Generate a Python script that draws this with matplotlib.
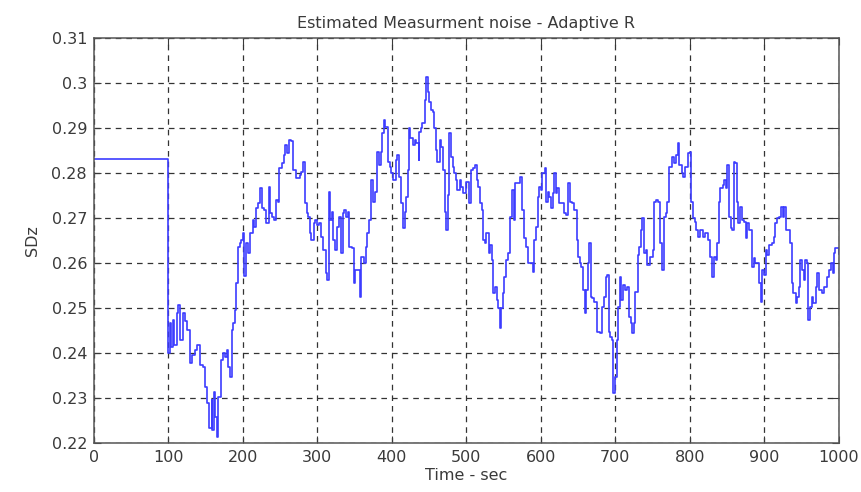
import matplotlib
matplotlib.use("Agg")
import matplotlib.pyplot as plt

plt.rcParams['font.family'] = ['DejaVu Sans']

t = [0, 100, 102, 104, 106, 108, 111, 113, 116, 119, 122, 125, 129, 132, 135, 138,
     142, 147, 149, 152, 155, 158, 159, 161, 163, 165, 167, 170, 173, 176, 178, 180,
     182, 185, 187, 189, 191, 194, 196, 198, 200, 202, 204, 207, 210, 213, 215, 217,
     220, 223, 226, 228, 231, 235, 237, 239, 242, 245, 247, 249, 252, 255, 256, 259,
     262, 265, 267, 271, 273, 276, 278, 281, 283, 286, 288, 290, 292, 295, 297, 299,
     302, 305, 308, 311, 313, 315, 317, 319, 321, 324, 326, 329, 332, 334, 336, 339,
     341, 343, 347, 349, 351, 354, 357, 359, 362, 365, 366, 369, 372, 374, 377, 380,
     383, 386, 387, 389, 391, 395, 397, 399, 402, 405, 407, 409, 412, 415, 417, 419,
     421, 423, 425, 428, 431, 433, 436, 437, 439, 441, 444, 446, 448, 450, 452, 455,
     457, 459, 461, 464, 466, 468, 471, 473, 475, 477, 479, 482, 484, 486, 488, 491,
     493, 496, 498, 500, 503, 506, 509, 512, 514, 516, 519, 521, 523, 525, 527, 530,
     532, 534, 536, 538, 541, 543, 545, 547, 549, 551, 553, 556, 558, 561, 564, 566,
     570, 572, 575, 578, 580, 583, 586, 589, 591, 593, 596, 598, 600, 602, 605, 607,
     609, 611, 613, 616, 618, 620, 622, 625, 628, 631, 634, 637, 639, 642, 645, 648,
     650, 652, 654, 657, 659, 661, 663, 665, 667, 669, 672, 676, 679, 682, 685, 687,
     689, 691, 693, 695, 697, 700, 702, 704, 706, 708, 711, 713, 716, 718, 721, 723,
     725, 727, 730, 732, 734, 736, 739, 741, 743, 747, 750, 752, 755, 758, 760, 763,
     765, 768, 770, 772, 776, 779, 782, 784, 786, 789, 791, 794, 797, 800, 802, 804,
     807, 809, 811, 814, 818, 821, 825, 827, 830, 832, 835, 837, 839, 841, 844, 846,
     848, 850, 852, 855, 857, 859, 861, 863, 865, 867, 870, 873, 875, 877, 880, 883,
     886, 888, 890, 893, 895, 897, 900, 902, 904, 907, 910, 913, 915, 917, 920, 923,
     925, 927, 929, 932, 935, 937, 939, 942, 944, 946, 948, 951, 953, 955, 957, 959,
     962, 964, 966, 969, 971, 973, 977, 980, 984, 987, 990, 992, 993, 995, 1000]
sdz = [0.2830, 0.2400, 0.2467, 0.2413, 0.2473, 0.2418, 0.2489, 0.2507, 0.2429, 0.2489,
       0.2470, 0.2451, 0.2378, 0.2395, 0.2407, 0.2418, 0.2373, 0.2369, 0.2324, 0.2289,
       0.2233, 0.2296, 0.2229, 0.2313, 0.2258, 0.2213, 0.2302, 0.2384, 0.2400, 0.2391,
       0.2407, 0.2369, 0.2347, 0.2451, 0.2467, 0.2496, 0.2556, 0.2636, 0.2644, 0.2651,
       0.2667, 0.2570, 0.2644, 0.2622, 0.2667, 0.2696, 0.2680, 0.2722, 0.2733, 0.2767,
       0.2722, 0.2718, 0.2689, 0.2769, 0.2711, 0.2702, 0.2696, 0.2740, 0.2736, 0.2811,
       0.2822, 0.2840, 0.2862, 0.2844, 0.2873, 0.2871, 0.2807, 0.2789, 0.2789, 0.2796,
       0.2802, 0.2824, 0.2733, 0.2711, 0.2702, 0.2667, 0.2651, 0.2689, 0.2696, 0.2684,
       0.2689, 0.2658, 0.2629, 0.2578, 0.2562, 0.2758, 0.2696, 0.2713, 0.2651, 0.2629,
       0.2680, 0.2702, 0.2622, 0.2711, 0.2718, 0.2702, 0.2713, 0.2636, 0.2633, 0.2556,
       0.2584, 0.2584, 0.2524, 0.2613, 0.2600, 0.2636, 0.2667, 0.2696, 0.2784, 0.2736,
       0.2758, 0.2847, 0.2818, 0.2847, 0.2889, 0.2918, 0.2902, 0.2824, 0.2813, 0.2800,
       0.2784, 0.2829, 0.2840, 0.2791, 0.2733, 0.2678, 0.2713, 0.2747, 0.2807, 0.2900,
       0.2878, 0.2862, 0.2873, 0.2867, 0.2829, 0.2891, 0.2900, 0.2911, 0.2962, 0.3013,
       0.2980, 0.2958, 0.2940, 0.2936, 0.2900, 0.2851, 0.2824, 0.2873, 0.2858, 0.2807,
       0.2713, 0.2673, 0.2751, 0.2889, 0.2836, 0.2813, 0.2800, 0.2784, 0.2762, 0.2784,
       0.2769, 0.2756, 0.2756, 0.2780, 0.2733, 0.2807, 0.2811, 0.2818, 0.2784, 0.2769,
       0.2733, 0.2718, 0.2651, 0.2644, 0.2667, 0.2622, 0.2640, 0.2607, 0.2533, 0.2547,
       0.2518, 0.2500, 0.2456, 0.2500, 0.2533, 0.2569, 0.2607, 0.2622, 0.2702, 0.2762,
       0.2696, 0.2778, 0.2778, 0.2791, 0.2718, 0.2656, 0.2636, 0.2600, 0.2600, 0.2580,
       0.2651, 0.2680, 0.2747, 0.2769, 0.2762, 0.2800, 0.2811, 0.2736, 0.2758, 0.2747,
       0.2722, 0.2756, 0.2800, 0.2756, 0.2767, 0.2733, 0.2733, 0.2711, 0.2707, 0.2778,
       0.2736, 0.2733, 0.2718, 0.2651, 0.2613, 0.2600, 0.2591, 0.2540, 0.2489, 0.2540,
       0.2600, 0.2644, 0.2524, 0.2522, 0.2513, 0.2447, 0.2444, 0.2502, 0.2524, 0.2569,
       0.2573, 0.2447, 0.2436, 0.2429, 0.2311, 0.2347, 0.2429, 0.2502, 0.2569, 0.2518,
       0.2551, 0.2540, 0.2547, 0.2480, 0.2467, 0.2444, 0.2467, 0.2536, 0.2618, 0.2636,
       0.2673, 0.2700, 0.2622, 0.2629, 0.2596, 0.2613, 0.2629, 0.2736, 0.2740, 0.2736,
       0.2644, 0.2584, 0.2702, 0.2711, 0.2736, 0.2813, 0.2836, 0.2822, 0.2840, 0.2867,
       0.2818, 0.2800, 0.2791, 0.2813, 0.2844, 0.2847, 0.2736, 0.2700, 0.2691, 0.2673,
       0.2658, 0.2673, 0.2658, 0.2667, 0.2651, 0.2613, 0.2569, 0.2613, 0.2607, 0.2644,
       0.2736, 0.2767, 0.2773, 0.2784, 0.2767, 0.2818, 0.2702, 0.2678, 0.2673, 0.2824,
       0.2822, 0.2736, 0.2689, 0.2724, 0.2696, 0.2691, 0.2656, 0.2689, 0.2673, 0.2591,
       0.2611, 0.2600, 0.2600, 0.2556, 0.2513, 0.2584, 0.2573, 0.2629, 0.2618, 0.2640,
       0.2644, 0.2658, 0.2689, 0.2700, 0.2702, 0.2724, 0.2702, 0.2724, 0.2673, 0.2673,
       0.2644, 0.2556, 0.2533, 0.2511, 0.2524, 0.2547, 0.2607, 0.2584, 0.2562, 0.2607,
       0.2600, 0.2473, 0.2502, 0.2524, 0.2511, 0.2547, 0.2578, 0.2540, 0.2533, 0.2547,
       0.2569, 0.2584, 0.2600, 0.2578, 0.2622, 0.2633, 0.2620]

xticks = [0, 100, 200, 300, 400, 500, 600, 700, 800, 900, 1000]
yticks = [0.22, 0.23, 0.24, 0.25, 0.26, 0.27, 0.28, 0.29, 0.3, 0.31]
ytick_labels = ["0.22", "0.23", "0.24", "0.25", "0.26", "0.27", "0.28", "0.29", "0.3", "0.31"]

txt = "#3a3a3a"

fig = plt.figure(figsize=(8.62, 4.92), dpi=100)
ax = fig.add_axes([0.109, 0.0996, 0.864, 0.8232])

ax.plot(t, sdz, color="#3c3cff", lw=1.2, drawstyle="steps-post")

ax.set_xlim(0, 1000)
ax.set_ylim(0.22, 0.31)
ax.set_xticks(xticks)
ax.set_yticks(yticks)
ax.set_yticklabels(ytick_labels)
ax.grid(True, color="#333333", linestyle=(0, (4.5, 4)), linewidth=0.9)
ax.tick_params(direction="in", length=5, top=True, right=True, labelsize=11.5,
               colors=txt, pad=5)
for s in ax.spines.values():
    s.set_color("#555555")
    s.set_linewidth(1.1)

ax.set_title("Estimated Measurment noise - Adaptive R", fontsize=11.5, color=txt, pad=7)
ax.set_xlabel("Time - sec", fontsize=11.5, color=txt, labelpad=2)
ax.set_ylabel("SDz", fontsize=11.5, color=txt, labelpad=8)

fig.savefig("out.png", dpi=100)
